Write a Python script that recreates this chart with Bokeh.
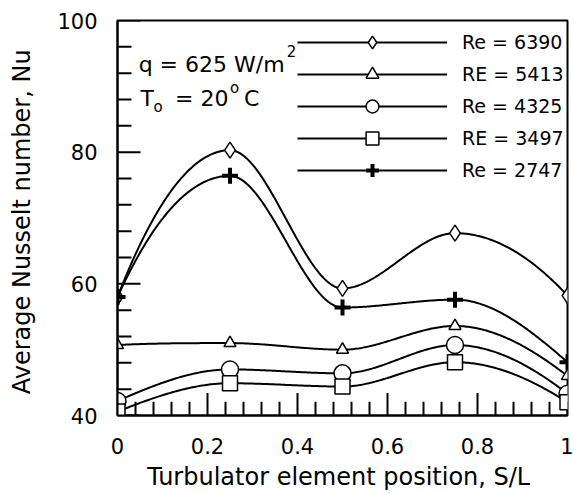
import numpy as np
from bokeh.plotting import figure
from bokeh.models import FixedTicker, Legend, LegendItem, Label, Range1d
from bokeh.embed import file_html
from bokeh.resources import INLINE

# ---- data ----
s_over_l = [0.0, 0.25, 0.5, 0.75, 1.0]
nu_re6390 = [58.0, 80.3, 59.3, 67.7, 58.2]
nu_re5413 = [50.7, 51.0, 50.0, 53.6, 46.0]
nu_re4325 = [42.2, 47.0, 46.4, 50.7, 43.3]
nu_re3497 = [40.6, 44.9, 44.4, 48.1, 42.0]
nu_re2747 = [58.0, 76.4, 56.4, 57.6, 48.1]

series_labels = ["Re = 6390", "RE = 5413", "Re = 4325", "RE = 3497", "Re = 2747"]
x_ticks = [0.0, 0.2, 0.4, 0.6, 0.8, 1.0]
x_tick_labels = ["0", "0.2", "0.4", "0.6", "0.8", "1"]
y_ticks = [40.0, 60.0, 80.0, 100.0]
y_tick_labels = ["40", "60", "80", "100"]

FONT = "DejaVu Sans"

X0, X1, Y0, Y1 = 0.0, 1.0, 40.0, 100.0
FRAME_W, FRAME_H = 450, 402


def pchip(x, y, n=300):
    """Monotone piecewise cubic (Fritsch-Carlson) smoothing through the points."""
    x = np.asarray(x, float)
    y = np.asarray(y, float)
    h = np.diff(x)
    delta = np.diff(y) / h
    m = np.zeros_like(y)
    for k in range(1, len(x) - 1):
        if delta[k - 1] * delta[k] > 0:
            w1 = 2 * h[k] + h[k - 1]
            w2 = h[k] + 2 * h[k - 1]
            m[k] = (w1 + w2) / (w1 / delta[k - 1] + w2 / delta[k])
        else:
            m[k] = 0.0

    def end_slope(h0, h1, d0, d1):
        s = ((2 * h0 + h1) * d0 - h0 * d1) / (h0 + h1)
        if np.sign(s) != np.sign(d0):
            s = 0.0
        elif np.sign(d0) != np.sign(d1) and abs(s) > abs(3 * d0):
            s = 3 * d0
        return s

    m[0] = end_slope(h[0], h[1], delta[0], delta[1])
    m[-1] = end_slope(h[-1], h[-2], delta[-1], delta[-2])
    xs = np.linspace(x[0], x[-1], n)
    idx = np.clip(np.searchsorted(x, xs, side="right") - 1, 0, len(x) - 2)
    t = (xs - x[idx]) / h[idx]
    h00 = 2 * t ** 3 - 3 * t ** 2 + 1
    h10 = t ** 3 - 2 * t ** 2 + t
    h01 = -2 * t ** 3 + 3 * t ** 2
    h11 = t ** 3 - t ** 2
    ys = h00 * y[idx] + h10 * h[idx] * m[idx] + h01 * y[idx + 1] + h11 * h[idx] * m[idx + 1]
    return xs, ys


p = figure(width=573, height=493, output_backend="svg", toolbar_location=None,
           x_range=Range1d(X0, X1), y_range=Range1d(Y0, Y1),
           min_border_left=117, min_border_right=6, min_border_top=20, min_border_bottom=71)

p.xgrid.visible = False
p.ygrid.visible = False
p.outline_line_color = "black"
p.outline_line_width = 2
p.background_fill_color = "white"
p.border_fill_color = "white"

for ax in (p.xaxis, p.yaxis):
    ax.axis_line_width = 2
    ax.axis_line_color = "black"
    ax.major_tick_out = 0
    ax.minor_tick_out = 0
    ax.major_tick_in = 0
    ax.minor_tick_in = 0
    ax.major_label_text_font = FONT
    ax.major_label_text_font_size = "21px"
    ax.major_label_text_color = "black"
    ax.axis_label_text_font = FONT
    ax.axis_label_text_font_size = "24px"
    ax.axis_label_text_font_style = "normal"
    ax.axis_label_text_color = "black"

x_minor = [round(float(v), 4) for v in np.arange(0, 1.0001, 0.04)]
y_minor = [float(v) for v in range(40, 101, 4)]
p.xaxis.ticker = FixedTicker(ticks=x_ticks)
p.xaxis.major_label_overrides = dict(zip(x_ticks, x_tick_labels))
p.yaxis.ticker = FixedTicker(ticks=y_ticks)
p.yaxis.major_label_overrides = dict(zip(y_ticks, y_tick_labels))
p.xaxis.major_label_standoff = 22
p.yaxis.major_label_standoff = 20
p.xaxis.axis_label = "Turbulator element position,  S/L"
p.yaxis.axis_label = "Average Nusselt number,  Nu"
p.xaxis.axis_label_standoff = 6
p.yaxis.axis_label_standoff = 18

# inward ticks (lengths given in pixels), each drawn as a short line
px_y = (Y1 - Y0) / FRAME_H
px_x = (X1 - X0) / FRAME_W
MAJ, MIN = 23, 14
for t in x_minor:
    L = MAJ if min(abs(t - m) for m in x_ticks) < 1e-6 else MIN
    p.line([t, t], [Y0, Y0 + L * px_y], line_color="black", line_width=2)
for t in y_minor:
    L = MAJ if min(abs(t - m) for m in y_ticks) < 1e-6 else MIN
    p.line([X0, X0 + L * px_x], [t, t], line_color="black", line_width=2)

series = [
    (nu_re6390, "diamond", 16),
    (nu_re5413, "triangle", 12),
    (nu_re4325, "circle", 17),
    (nu_re3497, "square", 15),
    (nu_re2747, "cross", 16),
]

items = []
for (vals, marker, size), lab in zip(series, series_labels):
    xs, ys = pchip(s_over_l, vals)
    lr = p.line(xs, ys, line_color="black", line_width=2)
    if marker == "cross":
        sr = p.scatter(s_over_l, vals, marker=marker, size=size, line_color="black",
                       line_width=4, fill_color=None)
    else:
        sr = p.scatter(s_over_l, vals, marker=marker, size=size, line_color="black",
                       line_width=1.5, fill_color="white")
    items.append(LegendItem(label=lab, renderers=[lr, sr]))

legend = Legend(items=items, location=(180, 229), glyph_width=150, glyph_height=32,
                spacing=0, padding=0, margin=0, label_standoff=15,
                label_text_font=FONT, label_text_font_size="19px",
                label_text_color="black",
                background_fill_alpha=0, border_line_alpha=0)
p.add_layout(legend)

# annotation texts
lab_kw = dict(text_font=FONT, text_color="black", text_baseline="alphabetic")
p.add_layout(Label(x=0.047, y=93.3, text="q = 625 W/m", text_font_size="22px", **lab_kw))
p.add_layout(Label(x=0.376, y=95.3, text="2", text_font_size="15px", **lab_kw))
p.add_layout(Label(x=0.051, y=88.1, text="T", text_font_size="22px", **lab_kw))
p.add_layout(Label(x=0.080, y=86.9, text="o", text_font_size="15px", **lab_kw))
p.add_layout(Label(x=0.128, y=88.1, text="= 20", text_font_size="22px", **lab_kw))
p.add_layout(Label(x=0.250, y=89.7, text="o", text_font_size="15px", **lab_kw))
p.add_layout(Label(x=0.281, y=88.1, text="C", text_font_size="22px", **lab_kw))

open("out.html", "w").write(file_html(p, INLINE))
